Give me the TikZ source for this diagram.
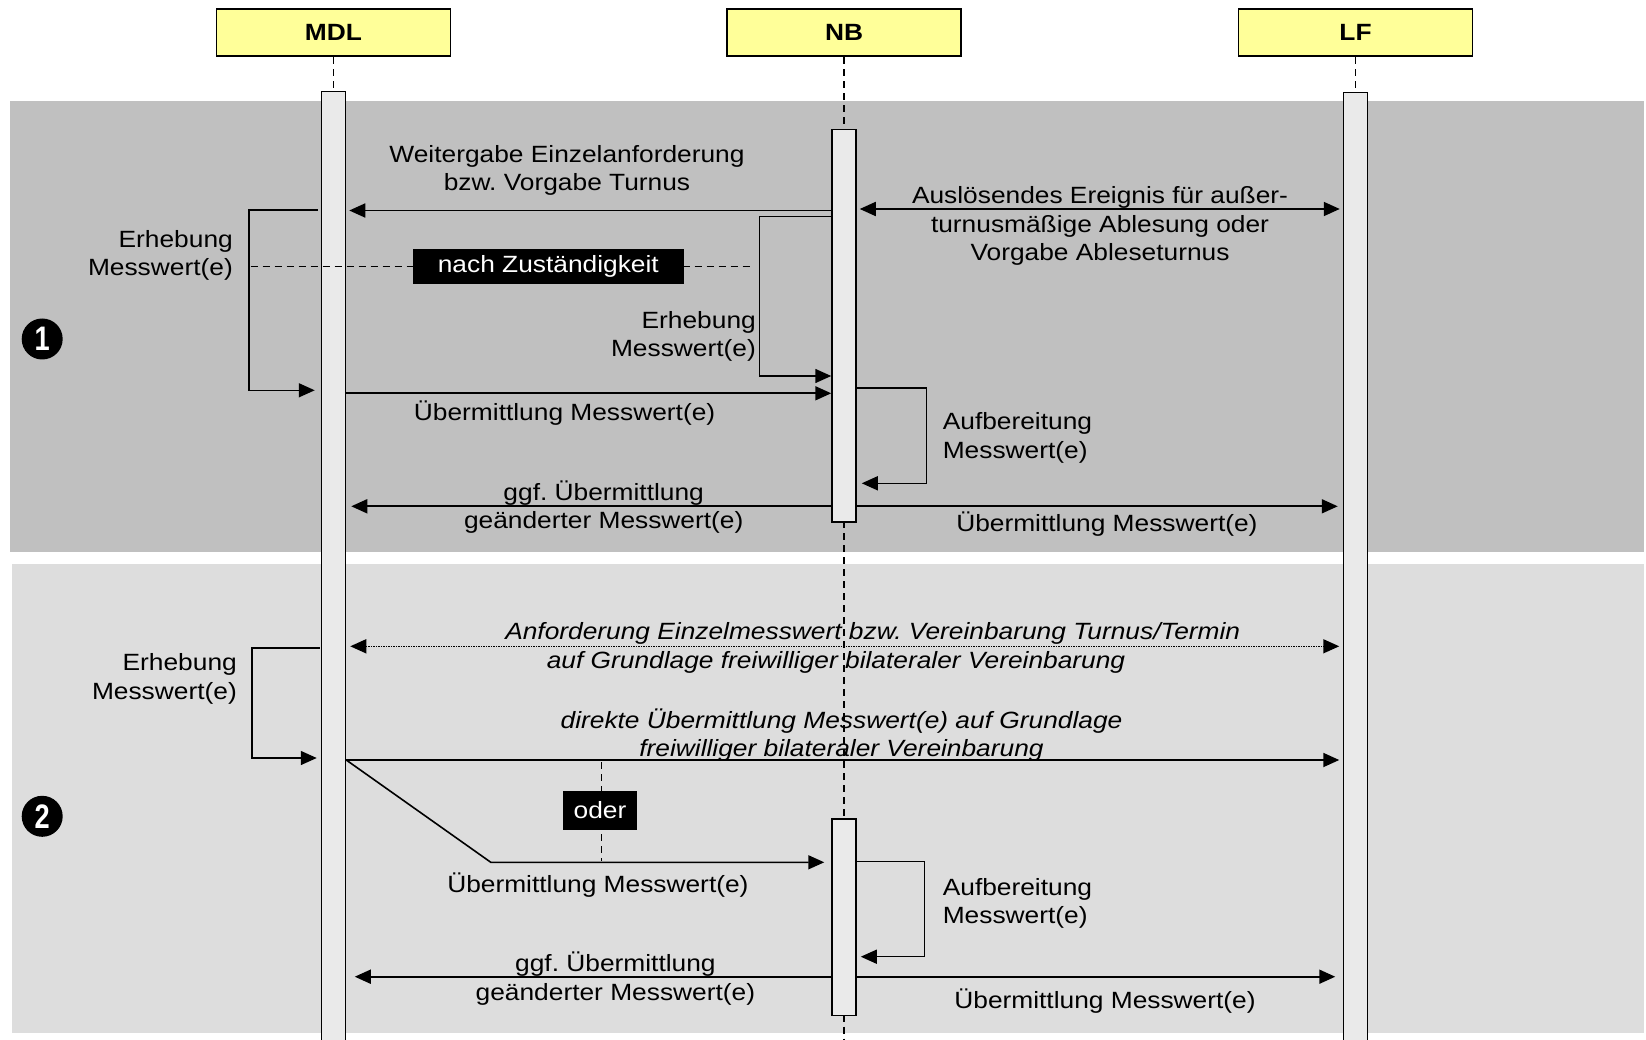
\documentclass[tikz,border=0pt]{standalone}
\usepackage{fontspec}
\setmainfont[FakeStretch=1.12]{Liberation Sans}
\newfontfamily\numfamily[FakeStretch=0.8]{Liberation Sans}
\usetikzlibrary{arrows.meta}
\definecolor{bandA}{HTML}{C0C0C0}
\definecolor{bandB}{HTML}{DDDDDD}
\definecolor{barfill}{HTML}{EAEAEA}
\definecolor{hdrfill}{HTML}{FFFF99}
\newcommand\dgtext{\fontsize{23.5}{28.5}\selectfont}
\newcommand\dghead{\fontsize{23.5}{28.5}\selectfont\bfseries}
\newcommand\dgnum{\numfamily\fontsize{34}{34}\selectfont\bfseries}
\frenchspacing
\begin{document}
\begin{tikzpicture}[x=1pt,y=-1pt,
  tip/.tip={Triangle[length=16pt,width=14pt]},
  hdr/.style={draw,line width=1.8pt,fill=hdrfill,minimum width=234pt,minimum height=47pt,inner sep=0pt,font=\dghead},
  bar/.style={draw,line width=1.5pt,fill=barfill,minimum width=24pt,inner sep=0pt,anchor=north},
  life/.style={line width=1.5pt,dash pattern=on 7pt off 5pt},
  msg/.style={line width=1.8pt,-tip},
  twoway/.style={line width=1.8pt,tip-tip},
  loopline/.style={line width=1.5pt,-tip},
  lbl/.style={font=\dgtext,inner sep=0pt,align=center,yshift=-2pt},
  tag/.style={fill=black,text=white,font=\dgtext,inner sep=0pt},
  num/.style={circle,fill=black,text=white,minimum size=41pt,inner sep=0pt,font=\dgnum}]
\useasboundingbox (0,0) rectangle (1646,1040);
\clip (0,0) rectangle (1646,1040);

% phase backgrounds
\fill[bandA] (10,101) rectangle (1644,552);
\fill[bandB] (12,564) rectangle (1644,1033);

% participants
\node[hdr] (mdl) at (333.5,32.7) {MDL};
\node[hdr] (nb)  at (844,32.7) {NB};
\node[hdr] (lf)  at (1355.5,32.7) {LF};
\coordinate (nbend) at (844,1045);

% lifelines
\draw[life] (mdl.south) -- (333.5,91);
\draw[life] (nb.south) -- (844,129);
\draw[life] (844,521) -- (844,818);
\draw[life] (844,1014.5) -- (nbend);
\draw[life] (lf.south) -- (1355.5,92);

% activation bars
\node[bar,minimum height=965pt] (mdlbar) at (333.5,91) {};
\node[bar,minimum height=392pt] (nbbar1) at (844,129) {};
\node[bar,minimum height=196.5pt] (nbbar2) at (844,818) {};
\node[bar,minimum height=965pt] (lfbar) at (1355.5,92) {};

% phase numbers
\node[num] (one) at (42.2,339) {1};
\node[num] (two) at (42.2,816.3) {2};

% ---- phase 1 ----
\draw[msg,shorten >=3pt] (nbbar1.west |- 0,210.5) -- (mdlbar.east |- 0,210.5);
\node[lbl] (l1) at (567,168.5) {Weitergabe Einzelanforderung\\bzw. Vorgabe Turnus};

\draw[twoway,shorten <=3pt,shorten >=3pt] (nbbar1.east |- 0,209) -- (lfbar.west |- 0,209);
\node[lbl] (l2) at (1100,224) {Auslösendes Ereignis für außer-\\turnusmäßige Ablesung oder\\Vorgabe Ableseturnus};

\draw[loopline,shorten <=3pt,shorten >=6pt] (mdlbar.west |- 0,210) -- (249,210) -- (249,390.3) -- (mdlbar.west |- 0,390.3);
\node[lbl,align=right,anchor=east] (l3) at (233,253.5) {Erhebung\\Messwert(e)};

\draw[life] (250.7,266.5) -- (753.7,266.5);
\node[tag,minimum width=270.7pt,minimum height=34.7pt] (zust) at (548.3,266.3) {nach Zuständigkeit};

\draw[loopline] (nbbar1.west |- 0,216.3) -- (759.5,216.3) -- (759.5,376) -- (nbbar1.west |- 0,376);
\node[lbl,align=right,anchor=east] (l5) at (756,334.5) {Erhebung\\Messwert(e)};

\draw[msg] (mdlbar.east |- 0,393.3) -- (nbbar1.west |- 0,393.3);
\node[lbl] (l6) at (564.6,411) {Übermittlung Messwert(e)};

\draw[loopline,shorten >=5pt] (nbbar1.east |- 0,388) -- (926.6,388) -- (926.6,483.3) -- (nbbar1.east |- 0,483.3);
\node[lbl,align=left,anchor=west] (l7) at (942.6,435.8) {Aufbereitung\\Messwert(e)};

\draw[msg,shorten >=5pt] (nbbar1.west |- 0,506.3) -- (mdlbar.east |- 0,506.3);
\node[lbl] (l8) at (603.7,505.2) {ggf. Übermittlung\\geänderter Messwert(e)};

\draw[msg,shorten >=5pt] (nbbar1.east |- 0,506.3) -- (lfbar.west |- 0,506.3);
\node[lbl] (l9) at (1106.9,521.7) {Übermittlung Messwert(e)};

% ---- phase 2 ----
\draw[line width=1.5pt,densely dotted,tip-tip,shorten <=4pt,shorten >=3.5pt] (mdlbar.east |- 0,646.3) -- (lfbar.west |- 0,646.3);
\node[lbl,font=\dgtext\itshape] (l10a) at (872.7,631.7) {Anforderung Einzelmesswert bzw. Vereinbarung Turnus/Termin};
\node[lbl,font=\dgtext\itshape] (l10b) at (836,660) {auf Grundlage freiwilliger bilateraler Vereinbarung};

\draw[loopline,shorten <=1pt,shorten >=4pt] (mdlbar.west |- 0,648) -- (252,648) -- (252,758) -- (mdlbar.west |- 0,758);
\node[lbl,align=right,anchor=east] (l11) at (237,677) {Erhebung\\Messwert(e)};

\draw[msg,shorten >=3.5pt] (mdlbar.east |- 0,760) -- (lfbar.west |- 0,760);
\node[lbl,font=\dgtext\itshape] (l12) at (841.5,733.3) {direkte Übermittlung Messwert(e) auf Grundlage\\freiwilliger bilateraler Vereinbarung};

\draw[msg,line width=1.6pt,shorten >=7pt] (mdlbar.east |- 0,760) -- (490.8,862.3) -- (nbbar2.west |- 0,862.3);
\coordinate (od1) at (601.7,762);
\coordinate (od2) at (601.7,861);
\draw[life] (od1) -- (od2);
\node[tag,minimum width=73.7pt,minimum height=39pt] (oder) at (600,810.5) {oder};
\node[lbl] (l14) at (597.9,882.7) {Übermittlung Messwert(e)};

\draw[loopline,shorten >=4pt] (nbbar2.east |- 0,861.7) -- (924.3,861.7) -- (924.3,956.7) -- (nbbar2.east |- 0,956.7);
\node[lbl,align=left,anchor=west] (l15) at (942.6,901.5) {Aufbereitung\\Messwert(e)};

\draw[msg,shorten >=8.5pt] (nbbar2.west |- 0,976.7) -- (mdlbar.east |- 0,976.7);
\node[lbl] (l16) at (615.4,976.8) {ggf. Übermittlung\\geänderter Messwert(e)};

\draw[msg,shorten >=7.5pt] (nbbar2.east |- 0,976.7) -- (lfbar.west |- 0,976.7);
\node[lbl] (l17) at (1105,999.3) {Übermittlung Messwert(e)};
\end{tikzpicture}
\end{document}
